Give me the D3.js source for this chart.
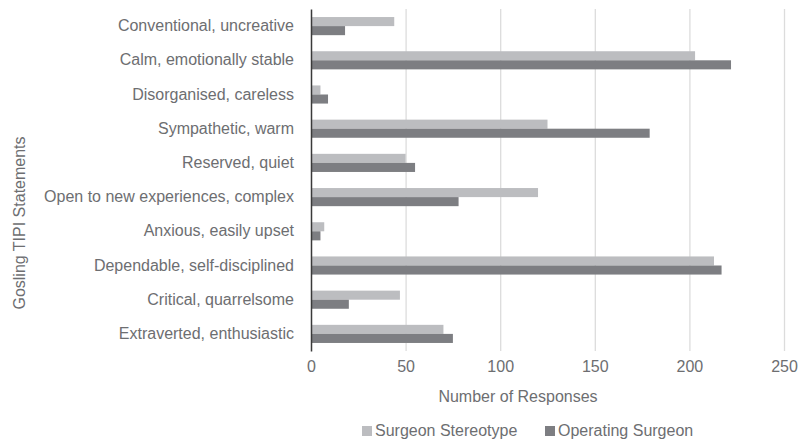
<!DOCTYPE html>
<html>
<head>
<meta charset="utf-8">
<script src="https://cdn.jsdelivr.net/npm/d3@7"></script>
<style>
  body { margin: 0; background: #fff; }
  text { font-family: "Liberation Sans", Arial, Helvetica, sans-serif; }
</style>
</head>
<body>
<svg id="chart" width="803" height="441"></svg>
<script>
var categories = [
  "Conventional, uncreative",
  "Calm, emotionally stable",
  "Disorganised, careless",
  "Sympathetic, warm",
  "Reserved, quiet",
  "Open to new experiences, complex",
  "Anxious, easily upset",
  "Dependable, self-disciplined",
  "Critical, quarrelsome",
  "Extraverted, enthusiastic"
];
var stereotype = [44, 203, 5, 125, 50, 120, 7, 213, 47, 70];
var operating = [18, 222, 9, 179, 55, 78, 5, 217, 20, 75];
var seriesNames = ["Surgeon Stereotype", "Operating Surgeon"];
var xTicks = [0, 50, 100, 150, 200, 250];

var svg = d3.select("#chart"),
    margin = {top: 9, right: 19, bottom: 90, left: 311},
    width = +svg.attr("width") - margin.left - margin.right,
    height = +svg.attr("height") - margin.top - margin.bottom,
    g = svg.append("g").attr("transform", "translate(" + margin.left + "," + margin.top + ")");

var colors = ["#bcbdc0", "#7d7e82"];
var textColor = "#6d6e71";

var x = d3.scaleLinear().domain([0, 250]).range([0, width]);

var y = d3.scaleBand()
    .domain(categories)
    .range([0, height])
    .paddingInner(0.47)
    .paddingOuter(0.235);

var ySub = d3.scaleBand()
    .domain(seriesNames)
    .range([0, y.bandwidth()]);

var rows = categories.map(function(c, i) {
  return {cat: c, values: [stereotype[i], operating[i]]};
});

// gridlines
var xAxis = d3.axisBottom(x).tickValues(xTicks).tickSize(-height).tickPadding(10);

g.append("g")
    .attr("transform", "translate(0," + height + ")")
    .call(customXAxis);

function customXAxis(a) {
  a.call(xAxis);
  a.select(".domain").remove();
  a.selectAll(".tick line").attr("stroke", "#dcdcdc").attr("stroke-width", 1.3)
    .filter(function(d) { return d === 0; }).remove();
  a.selectAll(".tick text").attr("fill", textColor).attr("font-size", 16)
    .attr("font-family", "Liberation Sans, Arial, sans-serif");
}

// bars
var groups = g.selectAll(".row")
  .data(rows)
  .enter().append("g")
    .attr("transform", function(d) { return "translate(0," + y(d.cat) + ")"; });

groups.selectAll("rect")
  .data(function(d) { return d.values.map(function(v, j) { return {name: seriesNames[j], value: v, j: j}; }); })
  .enter().append("rect")
    .attr("x", 0)
    .attr("y", function(d) { return ySub(d.name); })
    .attr("width", function(d) { return x(d.value); })
    .attr("height", ySub.bandwidth())
    .attr("fill", function(d) { return colors[d.j]; });

// y axis
var yAxis = d3.axisLeft(y).tickSize(0).tickPadding(17);

g.append("g").call(function(a) {
  a.call(yAxis);
  a.select(".domain").attr("stroke", "#3a3a3a").attr("stroke-width", 1.5);
  a.selectAll(".tick text").attr("fill", textColor).attr("font-size", 16)
    .attr("font-family", "Liberation Sans, Arial, sans-serif");
});

// axis titles
svg.append("text")
    .attr("x", 518)
    .attr("y", 402)
    .attr("text-anchor", "middle")
    .attr("fill", textColor)
    .attr("font-size", 16)
    .text("Number of Responses");

svg.append("text")
    .attr("transform", "translate(25,223) rotate(-90)")
    .attr("text-anchor", "middle")
    .attr("fill", textColor)
    .attr("font-size", 16)
    .text("Gosling TIPI Statements");

// legend
var legendX = [362, 545];
var legend = svg.selectAll(".legend")
  .data(seriesNames)
  .enter().append("g")
    .attr("transform", function(d, i) { return "translate(" + legendX[i] + ",426)"; });

legend.append("rect")
    .attr("width", 10)
    .attr("height", 10)
    .attr("fill", function(d, i) { return colors[i]; });

legend.append("text")
    .attr("x", 13)
    .attr("y", 10)
    .attr("fill", textColor)
    .attr("font-size", 16)
    .text(function(d) { return d; });
</script>
</body>
</html>
